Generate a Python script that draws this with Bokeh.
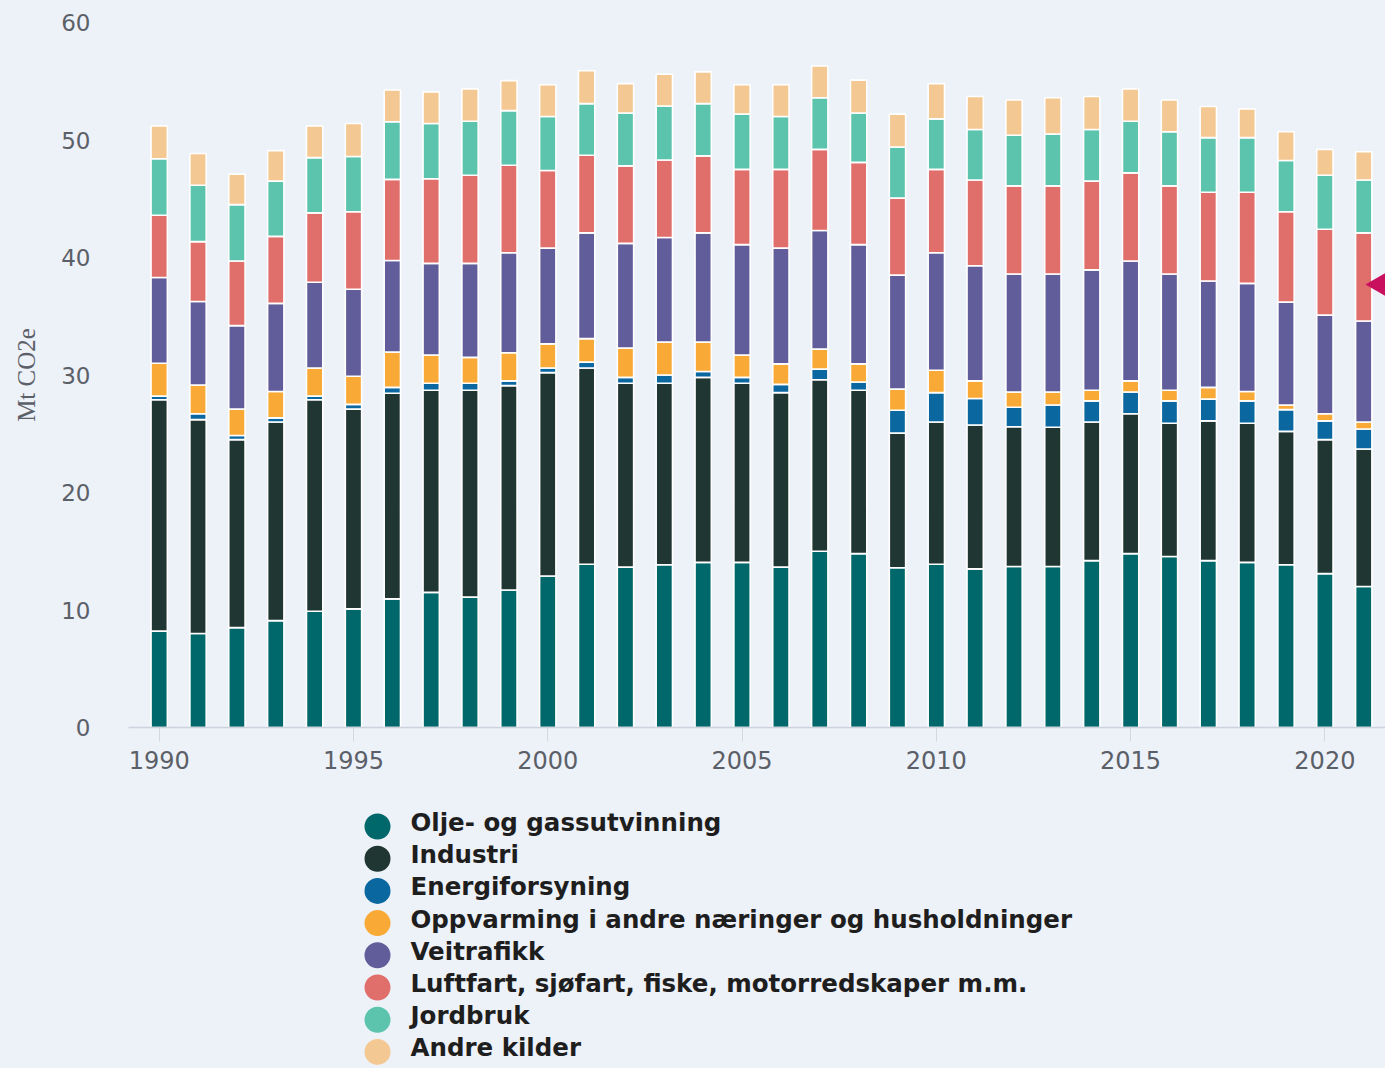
from math import pi
from bokeh.plotting import figure
from bokeh.models import ColumnDataSource, Range1d, SingleIntervalTicker
from bokeh.layouts import column
from bokeh.embed import file_html
from bokeh.resources import INLINE
from bokeh.core.properties import value

# ---------------- data ----------------
years = list(range(1990, 2022))

olje = [8.2, 8.0, 8.5, 9.1, 9.9, 10.1, 10.95, 11.5, 11.1, 11.7,
        12.9, 13.9, 13.65, 13.85, 14.05, 14.05, 13.65, 15.0, 14.8, 13.6,
        13.9, 13.5, 13.7, 13.7, 14.2, 14.8, 14.55, 14.2, 14.05, 13.85,
        13.1, 12.0]
industri = [19.7, 18.2, 16.0, 16.9, 18.0, 17.0, 17.5, 17.2, 17.6, 17.4,
            17.3, 16.7, 15.65, 15.45, 15.75, 15.25, 14.85, 14.6, 13.9, 11.45,
            12.1, 12.25, 11.9, 11.85, 11.8, 11.9, 11.35, 11.9, 11.85, 11.35,
            11.4, 11.7]
energi = [0.3, 0.5, 0.35, 0.35, 0.3, 0.4, 0.5, 0.6, 0.6, 0.4,
          0.4, 0.5, 0.5, 0.7, 0.5, 0.5, 0.7, 0.9, 0.7, 1.95,
          2.5, 2.25, 1.65, 1.9, 1.8, 1.85, 1.9, 1.85, 1.9, 1.85,
          1.6, 1.7]
oppvarming = [2.8, 2.45, 2.25, 2.25, 2.4, 2.4, 3.0, 2.4, 2.2, 2.4,
              2.05, 2.0, 2.5, 2.8, 2.5, 1.9, 1.75, 1.7, 1.55, 1.8,
              1.9, 1.5, 1.3, 1.1, 0.9, 0.95, 0.9, 1.0, 0.8, 0.4,
              0.6, 0.6]
veitrafikk = [7.3, 7.1, 7.1, 7.5, 7.3, 7.4, 7.8, 7.8, 8.0, 8.5,
              8.15, 9.0, 8.9, 8.9, 9.3, 9.4, 9.85, 10.1, 10.15, 9.7,
              10.0, 9.8, 10.05, 10.05, 10.25, 10.2, 9.9, 9.05, 9.2, 8.75,
              8.4, 8.6]
luftfart = [5.3, 5.1, 5.5, 5.7, 5.9, 6.6, 6.9, 7.2, 7.5, 7.45,
            6.6, 6.6, 6.6, 6.6, 6.55, 6.4, 6.7, 6.9, 7.0, 6.55,
            7.1, 7.3, 7.5, 7.5, 7.55, 7.5, 7.5, 7.55, 7.75, 7.7,
            7.3, 7.5]
jordbruk = [4.8, 4.8, 4.8, 4.7, 4.7, 4.7, 4.9, 4.7, 4.6, 4.65,
            4.6, 4.4, 4.5, 4.6, 4.45, 4.7, 4.5, 4.4, 4.2, 4.35,
            4.3, 4.3, 4.3, 4.4, 4.4, 4.4, 4.6, 4.65, 4.65, 4.35,
            4.6, 4.5]
andre = [2.8, 2.7, 2.6, 2.6, 2.7, 2.8, 2.7, 2.7, 2.75, 2.55,
         2.7, 2.8, 2.5, 2.7, 2.7, 2.5, 2.7, 2.7, 2.8, 2.8,
         3.0, 2.8, 3.0, 3.1, 2.8, 2.75, 2.7, 2.65, 2.45, 2.45,
         2.2, 2.4]

series_names = [
    "Olje- og gassutvinning",
    "Industri",
    "Energiforsyning",
    "Oppvarming i andre næringer og husholdninger",
    "Veitrafikk",
    "Luftfart, sjøfart, fiske, motorredskaper m.m.",
    "Jordbruk",
    "Andre kilder",
]
series_keys = ["olje", "industri", "energi", "oppvarming",
               "veitrafikk", "luftfart", "jordbruk", "andre"]
colors = ["#00676b", "#203633", "#0b67a0", "#f9aa36",
          "#615c9a", "#e06e6b", "#5cc3ad", "#f4c892"]

y_axis_title = "Mt CO2e"
# annotation marker (partially visible at the right edge)
marker_year = 2021.43
marker_value = 37.7

# ---------------- style ----------------
BG = "#edf1f8"
TICK_COLOR = "#5b6068"
W = 1385
LEFT = 128
H1 = 790
H2 = 278

src = ColumnDataSource(dict(year=years, olje=olje, industri=industri, energi=energi,
                            oppvarming=oppvarming, veitrafikk=veitrafikk,
                            luftfart=luftfart, jordbruk=jordbruk, andre=andre))

p = figure(width=W, height=H1,
           x_range=Range1d(1989.21, 2021.56), y_range=Range1d(0, 60),
           output_backend="svg", toolbar_location=None,
           background_fill_color=BG, border_fill_color=BG,
           min_border_left=LEFT, min_border_right=0,
           min_border_top=22, min_border_bottom=H1 - 727)
p.outline_line_color = None
p.xgrid.grid_line_color = None
p.ygrid.grid_line_color = None

p.vbar_stack(series_keys, x="year", width=0.42, source=src,
             fill_color=colors, line_color="white", line_width=1.6)

p.scatter(x=[marker_year], y=[marker_value], marker="triangle", size=26,
          angle=pi / 2, fill_color="#c8105e", line_color=None)

# y axis
p.yaxis.ticker = SingleIntervalTicker(interval=10, num_minor_ticks=0)
p.yaxis.axis_line_color = None
p.yaxis.major_tick_line_color = None
p.yaxis.minor_tick_line_color = None
p.yaxis.major_label_standoff = 32
p.yaxis.major_label_text_font = "DejaVu Sans"
p.yaxis.major_label_text_font_size = "23px"
p.yaxis.major_label_text_color = TICK_COLOR
p.yaxis.axis_label = y_axis_title
p.yaxis.axis_label_text_font = "Liberation Serif"
p.yaxis.axis_label_text_font_style = "normal"
p.yaxis.axis_label_text_font_size = "25px"
p.yaxis.axis_label_text_color = TICK_COLOR
p.yaxis.axis_label_standoff = 18

# x axis
p.xaxis.ticker = SingleIntervalTicker(interval=5, num_minor_ticks=0)
p.xaxis.axis_line_color = "#cdd3dc"
p.xaxis.axis_line_width = 1.5
p.xaxis.major_tick_in = 0
p.xaxis.major_tick_out = 14
p.xaxis.major_tick_line_color = "#d3d8e0"
p.xaxis.minor_tick_line_color = None
p.xaxis.major_label_standoff = 9
p.xaxis.major_label_text_font = "DejaVu Sans"
p.xaxis.major_label_text_font_size = "24px"
p.xaxis.major_label_text_color = TICK_COLOR

# ---------------- legend (drawn below, in pixel-like coordinates) ----------------
lg = figure(width=W, height=H2, x_range=Range1d(LEFT, W), y_range=Range1d(H2, 0),
            x_axis_type=None, y_axis_type=None,
            output_backend="svg", toolbar_location=None,
            background_fill_color=BG, border_fill_color=BG,
            min_border_left=LEFT, min_border_right=0,
            min_border_top=0, min_border_bottom=0)
lg.outline_line_color = None
lg.xgrid.grid_line_color = None
lg.ygrid.grid_line_color = None

step = 32.2
n = len(series_names)
lsrc = ColumnDataSource(dict(
    cx=[377] * n,
    cy=[36 + step * i for i in range(n)],
    tx=[410] * n,
    ty=[32 + step * i for i in range(n)],
    name=series_names,
    color=colors,
))
lg.scatter("cx", "cy", size=26, fill_color="color", line_color=None, source=lsrc)
lg.text("tx", "ty", text="name", source=lsrc,
        text_font=value("DejaVu Sans"), text_font_style="bold",
        text_font_size="24.5px", text_baseline="middle", text_color="#1e1e1e")

layout = column(p, lg, spacing=0)
html = file_html(layout, INLINE)
html = html.replace("<head>", "<head><style>html,body{background:#edf1f8;}</style>", 1)
open("out.html", "w").write(html)
